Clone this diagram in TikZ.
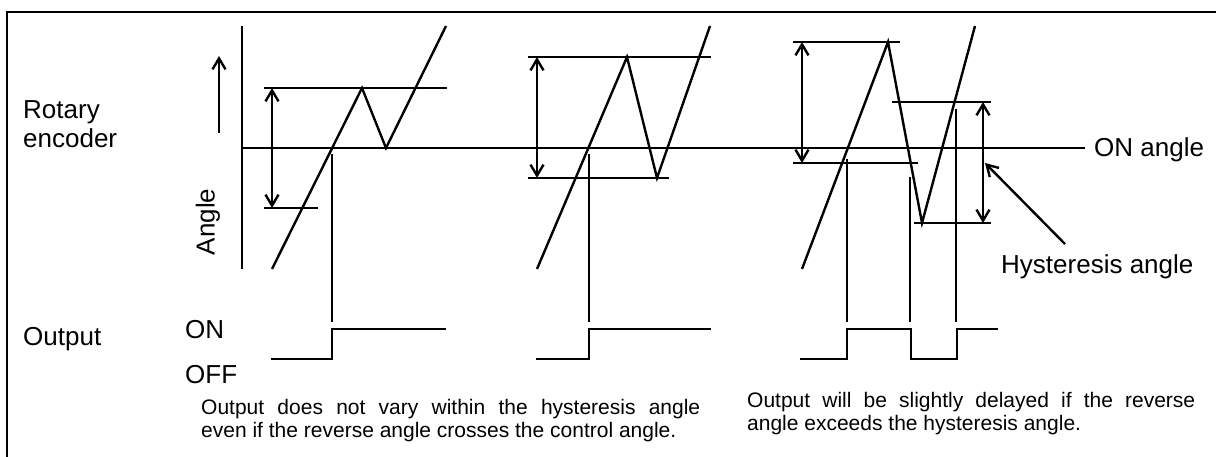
\documentclass[tikz,border=0pt]{standalone}
\usepackage{fontspec}
\setmainfont{Liberation Sans}
\usetikzlibrary{arrows.meta}
\begin{document}
\begin{tikzpicture}[x=1pt, y=-1pt, >={Straight Barb[length=11pt,width=13pt]},
  big/.style={font=\fontsize{26}{29}\selectfont, inner sep=0pt},
  small/.style={font=\fontsize{21}{23}\selectfont, inner sep=0pt},
  wave/.style={line width=2.4pt, line join=miter},
  thinline/.style={line width=1.6pt}]
\useasboundingbox (0,0) rectangle (1216,457);
% Rahmen
\draw[line width=2.6pt] (7,457) -- (7,12) -- (1216,12);
% Beschriftung links
\node[big, anchor=base west] (rotary) at (23,119) {Rotary};
\node[big, anchor=base west] (encoder) at (23,148) {encoder};
\node[big, anchor=base west] (output) at (23,345) {Output};
\node[big, anchor=base west] (on) at (185,338) {ON};
\node[big, anchor=base west] (off) at (185,383) {OFF};
\node[big, rotate=90] (angle) at (208,222) {Angle};
\coordinate (upfoot) at (219,133);
\coordinate (uptip) at (219,56);
\draw[wave,->] (upfoot) -- (uptip);
% Achse und Schaltwinkel
\draw[wave] (242,26) -- (242,269);
\coordinate (onleft) at (242,148);
\node[big, anchor=base west] (onangle) at (1094,157) {ON angle};
\draw[thinline, shorten >=9pt] (onleft) -- (onleft -| onangle.west);
% Fall 1
\draw[wave] (272,269) -- (362,88) -- (386,148) -- (446,26);
\draw[wave] (264,88) -- (447,88);
\draw[wave] (264,208) -- (318,208);
\draw[wave,<->] (272,88) -- (272,208);
\draw[wave] (332,154) -- (332,322);
\draw[wave] (271,359) -- (332,359) -- (332,329) -- (446,329);
% Fall 2
\draw[wave] (537,269) -- (627,57) -- (657,178) -- (710,26);
\draw[wave] (528,57) -- (711,57);
\draw[wave] (528,178) -- (669,178);
\draw[wave,<->] (537,57) -- (537,178);
\draw[wave] (589,154) -- (589,322);
\draw[wave] (536,359) -- (589,359) -- (589,329) -- (711,329);
% Fall 3
\draw[wave] (802,269) -- (888,42) -- (922,223) -- (975,26);
\draw[wave] (793,42) -- (900,42);
\draw[wave] (793,163) -- (918,163);
\draw[wave,<->] (802,42) -- (802,163);
\draw[wave] (892,102) -- (991,102);
\draw[wave] (914,223) -- (991,223);
\draw[wave,<->] (983,102) -- (983,223);
\draw[wave] (847,159) -- (847,322);
\draw[wave] (910,177) -- (910,322);
\draw[wave] (956,109) -- (956,322);
\draw[wave] (800,359) -- (847,359) -- (847,329) -- (911,329) -- (911,359)
  -- (957,359) -- (957,329) -- (998,329);
% Hysterese
\node[big, anchor=base west] (hyst) at (1001,273) {Hysteresis angle};
\coordinate (hystfoot) at (1065,244);
\coordinate (hysttip) at (985,163);
\draw[wave,->] (hystfoot) -- (hysttip);
% Erklaerungen
\node[small, anchor=base west, text width=499pt, align=justify] (note1) at (201,414)
  {Output does not vary within the hysteresis angle\linebreak even if the reverse angle crosses the control angle.};
\node[small, anchor=base west, text width=448pt, align=justify] (note2) at (747,407)
  {Output will be slightly delayed if the reverse\linebreak angle exceeds the hysteresis angle.};
\end{tikzpicture}
\end{document}
